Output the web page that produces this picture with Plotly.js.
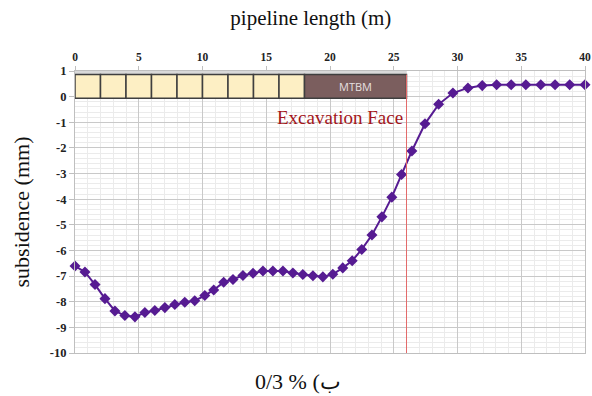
<!DOCTYPE html>
<html>
<head>
<meta charset="utf-8">
<script src="https://cdn.plot.ly/plotly-3.0.1.min.js"></script>
<style>html,body{margin:0;padding:0;background:#fff;}#chart{width:592px;height:396px;}</style>
</head>
<body>
<div id="chart"></div>
<script>
// pipeline length (m)
const distance = [0, 0.78, 1.57, 2.35, 3.13, 3.91, 4.70, 5.48, 6.26, 7.05, 7.83, 8.61, 9.39, 10.18, 10.88,
  11.66, 12.39, 13.17, 13.96, 14.74, 15.52, 16.31, 17.09, 17.87, 18.66, 19.44, 20.22, 21.00, 21.74, 22.49,
  23.29, 24.07, 24.85, 25.61, 26.42, 27.45, 28.52, 29.64, 30.82, 31.94, 33.07, 34.21, 35.36, 36.53, 37.65, 38.80, 40];
// subsidence (mm)
const subsidence = [-6.61, -6.84, -7.33, -7.88, -8.36, -8.54, -8.59, -8.42, -8.34, -8.23, -8.11, -8.02, -7.96, -7.76, -7.54,
  -7.24, -7.13, -6.98, -6.89, -6.80, -6.80, -6.80, -6.88, -6.94, -6.99, -7.03, -6.93, -6.68, -6.40, -5.96,
  -5.40, -4.69, -3.92, -3.04, -2.12, -1.06, -0.30, 0.14, 0.34, 0.43, 0.46, 0.46, 0.46, 0.46, 0.46, 0.46, 0.46];
const xTicks = [0, 5, 10, 15, 20, 25, 30, 35, 40];
const yTicks = [1, 0, -1, -2, -3, -4, -5, -6, -7, -8, -9, -10];
const pipeSegments = [0, 2, 4, 6, 8, 10, 12, 14, 16, 18];
const mtbmSpan = [18, 26];
const excavationFace = 26;
const boxBottom = -0.06, boxTop = 0.86;

const shapes = [];
shapes.push({type:'rect', xref:'x', yref:'y', x0:0, x1:mtbmSpan[1], y0:boxTop, y1:1,
  fillcolor:'#d9d9d9', line:{width:0}, layer:'above'});
for (let i = 0; i < pipeSegments.length - 1; i++) {
  shapes.push({type:'rect', xref:'x', yref:'y', x0:pipeSegments[i], x1:pipeSegments[i+1], y0:boxBottom, y1:boxTop,
    fillcolor:'#fdefc4', line:{color:'#3f3f3f', width:1.5}, layer:'above'});
}
shapes.push({type:'rect', xref:'x', yref:'y', x0:mtbmSpan[0], x1:mtbmSpan[1], y0:boxBottom, y1:boxTop,
  fillcolor:'#7b5e5e', line:{color:'#3f3f3f', width:1.5}, layer:'above'});
shapes.push({type:'line', xref:'x', yref:'y', x0:excavationFace, x1:excavationFace, y0:-10, y1:boxTop,
  line:{color:'#e36b6b', width:1}, layer:'above'});

const trace = {
  x: distance, y: subsidence, type:'scatter', mode:'lines+markers',
  line:{color:'#561b92', width:2},
  marker:{symbol:'diamond', size:8.5, color:'#561b92'},
  hoverinfo:'skip', cliponaxis:false
};

const serif = 'Liberation Serif';
const layout = {
  width:592, height:396,
  margin:{l:75, r:7, t:71, b:43},
  paper_bgcolor:'#ffffff', plot_bgcolor:'#ffffff',
  showlegend:false,
  title:{text:'pipeline length (m)', font:{family:serif, size:21, color:'#111'}, x:0.525, xanchor:'center', y:0.955, yanchor:'middle'},
  xaxis:{
    side:'top', range:[0,40], tickvals:xTicks, ticktext:xTicks.map(String),
    tickfont:{family:serif, size:11.5, color:'#222', weight:'bold'},
    ticks:'outside', ticklen:4, tickcolor:'#bfbfbf',
    showgrid:true, gridcolor:'#c9c9c9', gridwidth:1,
    minor:{dtick:1, showgrid:true, gridcolor:'#ebebeb', gridwidth:1},
    showline:true, linecolor:'#bfbfbf', mirror:true, zeroline:false, fixedrange:true
  },
  yaxis:{
    range:[-10,1], tickvals:yTicks, ticktext:yTicks.map(String),
    tickfont:{family:serif, size:12.5, color:'#222', weight:'bold'},
    ticks:'outside', ticklen:5, tickcolor:'#bfbfbf',
    showgrid:true, gridcolor:'#c9c9c9', gridwidth:1,
    minor:{dtick:0.2, showgrid:true, gridcolor:'#ebebeb', gridwidth:1},
    showline:true, linecolor:'#bfbfbf', mirror:true, zeroline:false, fixedrange:true,
    title:{text:'subsidence (mm)', font:{family:serif, size:22, color:'#111'}, standoff:14}
  },
  shapes: shapes,
  annotations:[
    {x:(mtbmSpan[0]+mtbmSpan[1])/2, y:(boxBottom+boxTop)/2, xref:'x', yref:'y', text:'MTBM', showarrow:false,
     font:{family:'Open Sans', size:11, color:'#e6e0e0'}},
    {x:excavationFace, y:-0.8, xref:'x', yref:'y', text:'Excavation Face', showarrow:false, xanchor:'right', xshift:-2,
     font:{family:serif, size:19, color:'#a3161b'}},
    {x:207/592, y:0, xref:'paper', yref:'paper', yshift:-28, text:'\u200E0/3 % (ب', showarrow:false, xanchor:'left', yanchor:'middle',
     font:{family:serif, size:22, color:'#111'}}
  ]
};
Plotly.newPlot('chart', [trace], layout, {displayModeBar:false, staticPlot:true});
</script>
</body>
</html>
